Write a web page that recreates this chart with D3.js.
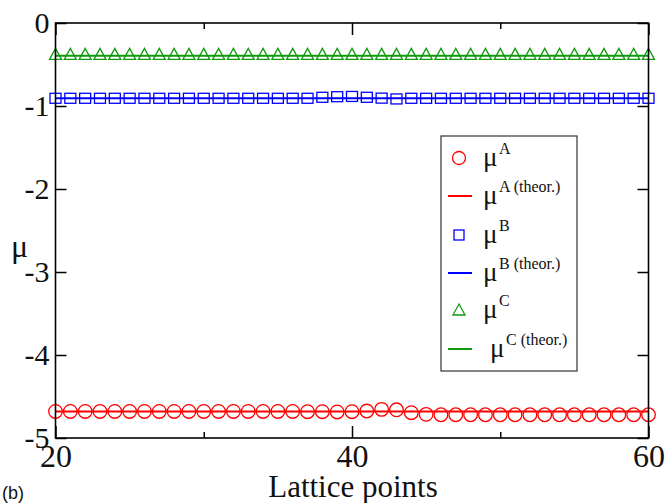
<!DOCTYPE html>
<html><head><meta charset="utf-8">
<script src="https://cdn.jsdelivr.net/npm/d3@7"></script>
<style>
body{margin:0;background:#fff}
.serif{font-family:"Liberation Serif","DejaVu Serif","Times New Roman",serif;}
.sans{font-family:"Liberation Sans",Arial,sans-serif;}
</style>
</head><body>
<svg id="c" width="667" height="503"></svg>
<script>
const lattice = [20,21,22,23,24,25,26,27,28,29,30,31,32,33,34,35,36,37,38,39,40,
                 41,42,43,44,45,46,47,48,49,50,51,52,53,54,55,56,57,58,59,60];
const muA = [-4.68,-4.68,-4.68,-4.68,-4.68,-4.68,-4.68,-4.68,-4.68,-4.68,-4.68,
             -4.68,-4.68,-4.68,-4.68,-4.68,-4.68,-4.683,-4.683,-4.686,-4.683,
             -4.675,-4.655,-4.66,-4.695,-4.715,-4.72,-4.72,-4.72,-4.72,-4.72,
             -4.72,-4.72,-4.72,-4.72,-4.72,-4.72,-4.72,-4.72,-4.72,-4.72];
const muB = [-0.907,-0.907,-0.907,-0.907,-0.907,-0.907,-0.907,-0.907,-0.907,-0.907,
             -0.907,-0.907,-0.907,-0.907,-0.907,-0.907,-0.907,-0.907,-0.895,-0.888,
             -0.885,-0.895,-0.905,-0.915,-0.907,-0.907,-0.907,-0.907,-0.907,-0.907,
             -0.907,-0.907,-0.907,-0.907,-0.907,-0.907,-0.907,-0.907,-0.907,-0.907,-0.907];
const muC = [-0.39,-0.39,-0.39,-0.39,-0.39,-0.39,-0.39,-0.39,-0.39,-0.39,-0.39,
             -0.39,-0.39,-0.39,-0.39,-0.39,-0.39,-0.39,-0.39,-0.39,-0.39,
             -0.39,-0.39,-0.39,-0.39,-0.39,-0.39,-0.39,-0.39,-0.39,-0.39,
             -0.39,-0.39,-0.39,-0.39,-0.39,-0.39,-0.39,-0.39,-0.39,-0.39];
const theorA = -4.68, theorB = -0.907, theorC = -0.395;
const yTicks = [0,-1,-2,-3,-4,-5];
const xMajor = [20,40,60];
const xMinor = [30,50];
const legendSup = ["A","A (theor.)","B","B (theor.)","C","C (theor.)"];

const RED="#ff0000", BLUE="#0000ff", GREEN="#109a10";
const svg = d3.select("#c");
const L=55.5, R=648.5, T=23, B=438;
const x = d3.scaleLinear().domain([20,60]).range([L,R]);
const y = d3.scaleLinear().domain([-5,0]).range([B,T]);

// theory lines
const line = d3.line().x(d=>x(d[0])).y(d=>y(d[1]));
[[theorA,RED],[theorB,BLUE],[theorC,GREEN]].forEach(([v,c])=>{
  svg.append("path").attr("d", line(lattice.map(l=>[l,v])))
    .attr("fill","none").attr("stroke",c).attr("stroke-width",2);
});

// markers
svg.append("g").selectAll("circle").data(lattice).join("circle")
  .attr("cx",(d)=>x(d)).attr("cy",(d,i)=>y(muA[i])).attr("r",6.8)
  .attr("fill","none").attr("stroke",RED).attr("stroke-width",1.3);
svg.append("g").selectAll("rect").data(lattice).join("rect")
  .attr("x",d=>x(d)-5.5).attr("y",(d,i)=>y(muB[i])-5).attr("width",11).attr("height",10)
  .attr("fill","none").attr("stroke",BLUE).attr("stroke-width",1.3);
const tri = (cx,cy)=>`M${cx},${cy-7}L${cx+6},${cy+4}L${cx-6},${cy+4}Z`;
svg.append("g").selectAll("path").data(lattice).join("path")
  .attr("d",(d,i)=>tri(x(d),y(muC[i])))
  .attr("fill","none").attr("stroke",GREEN).attr("stroke-width",1.3);

// axes
function styleAxis(g){
  g.attr("font-family",null);
  g.select(".domain").remove();
  g.selectAll(".tick line").attr("stroke","#000").attr("stroke-width",1.5);
  g.selectAll("text").attr("class","serif").attr("fill","#111");
}
const gl = svg.append("g").attr("transform",`translate(${L},0)`)
  .call(d3.axisLeft(y).tickValues(yTicks).tickFormat(d=>String(d)).tickSizeInner(-11).tickSizeOuter(0).tickPadding(6));
styleAxis(gl); gl.selectAll("text").attr("font-size",30);
const gr = svg.append("g").attr("transform",`translate(${R},0)`)
  .call(d3.axisRight(y).tickValues(yTicks).tickFormat("").tickSizeInner(-11).tickSizeOuter(0));
styleAxis(gr);
const gb = svg.append("g").attr("transform",`translate(0,${B})`)
  .call(d3.axisBottom(x).tickValues(xMajor).tickFormat(d=>String(d)).tickSizeInner(-12).tickSizeOuter(0).tickPadding(6));
styleAxis(gb); gb.selectAll("text").attr("font-size",32);
const gbm = svg.append("g").attr("transform",`translate(0,${B})`)
  .call(d3.axisBottom(x).tickValues(xMinor).tickFormat("").tickSizeInner(-6).tickSizeOuter(0));
styleAxis(gbm);
const gt = svg.append("g").attr("transform",`translate(0,${T})`)
  .call(d3.axisTop(x).tickValues(xMajor).tickFormat("").tickSizeInner(-12).tickSizeOuter(0));
styleAxis(gt);
const gtm = svg.append("g").attr("transform",`translate(0,${T})`)
  .call(d3.axisTop(x).tickValues(xMinor).tickFormat("").tickSizeInner(-6).tickSizeOuter(0));
styleAxis(gtm);

svg.append("rect").attr("x",L).attr("y",T).attr("width",R-L).attr("height",B-T)
  .attr("fill","none").attr("stroke","#000").attr("stroke-width",1.6);

// axis titles
svg.append("text").attr("class","serif").attr("x",353).attr("y",497).attr("text-anchor","middle")
  .attr("font-size",31).attr("fill","#111").text("Lattice points");
svg.append("text").attr("class","serif").attr("x",11).attr("y",257)
  .attr("font-size",32).attr("fill","#111").text("μ");
svg.append("text").attr("class","sans").attr("x",2).attr("y",499)
  .attr("font-size",18).attr("fill","#111").text("(b)");

// legend
const lg = svg.append("g");
lg.append("rect").attr("x",441).attr("y",136).attr("width",136).attr("height",235)
  .attr("fill","#fff").attr("stroke","#333").attr("stroke-width",1.2);
const rows = [158,196,235,273,310,349];
const cols = [RED,RED,BLUE,BLUE,GREEN,GREEN];
rows.forEach((ry,i)=>{
  const c = cols[i];
  if(i===0) lg.append("circle").attr("cx",459).attr("cy",ry).attr("r",6.5).attr("fill","none").attr("stroke",c).attr("stroke-width",1.3);
  else if(i===2) lg.append("rect").attr("x",454).attr("y",ry-5).attr("width",10).attr("height",10).attr("fill","none").attr("stroke",c).attr("stroke-width",1.3);
  else if(i===4) lg.append("path").attr("d",tri(459,ry+1)).attr("fill","none").attr("stroke",c).attr("stroke-width",1.3);
  else lg.append("line").attr("x1",448).attr("x2",472).attr("y1",ry).attr("y2",ry).attr("stroke",c).attr("stroke-width",2);
  const mx = i===5 ? 490 : 483;
  lg.append("text").attr("class","serif").attr("x",mx).attr("y",ry+8).attr("font-size",27).attr("fill","#111").text("μ");
  lg.append("text").attr("class","serif").attr("x",mx+16).attr("y",ry-4).attr("font-size",16).attr("fill","#111").text(legendSup[i]);
});
</script>
</body></html>
